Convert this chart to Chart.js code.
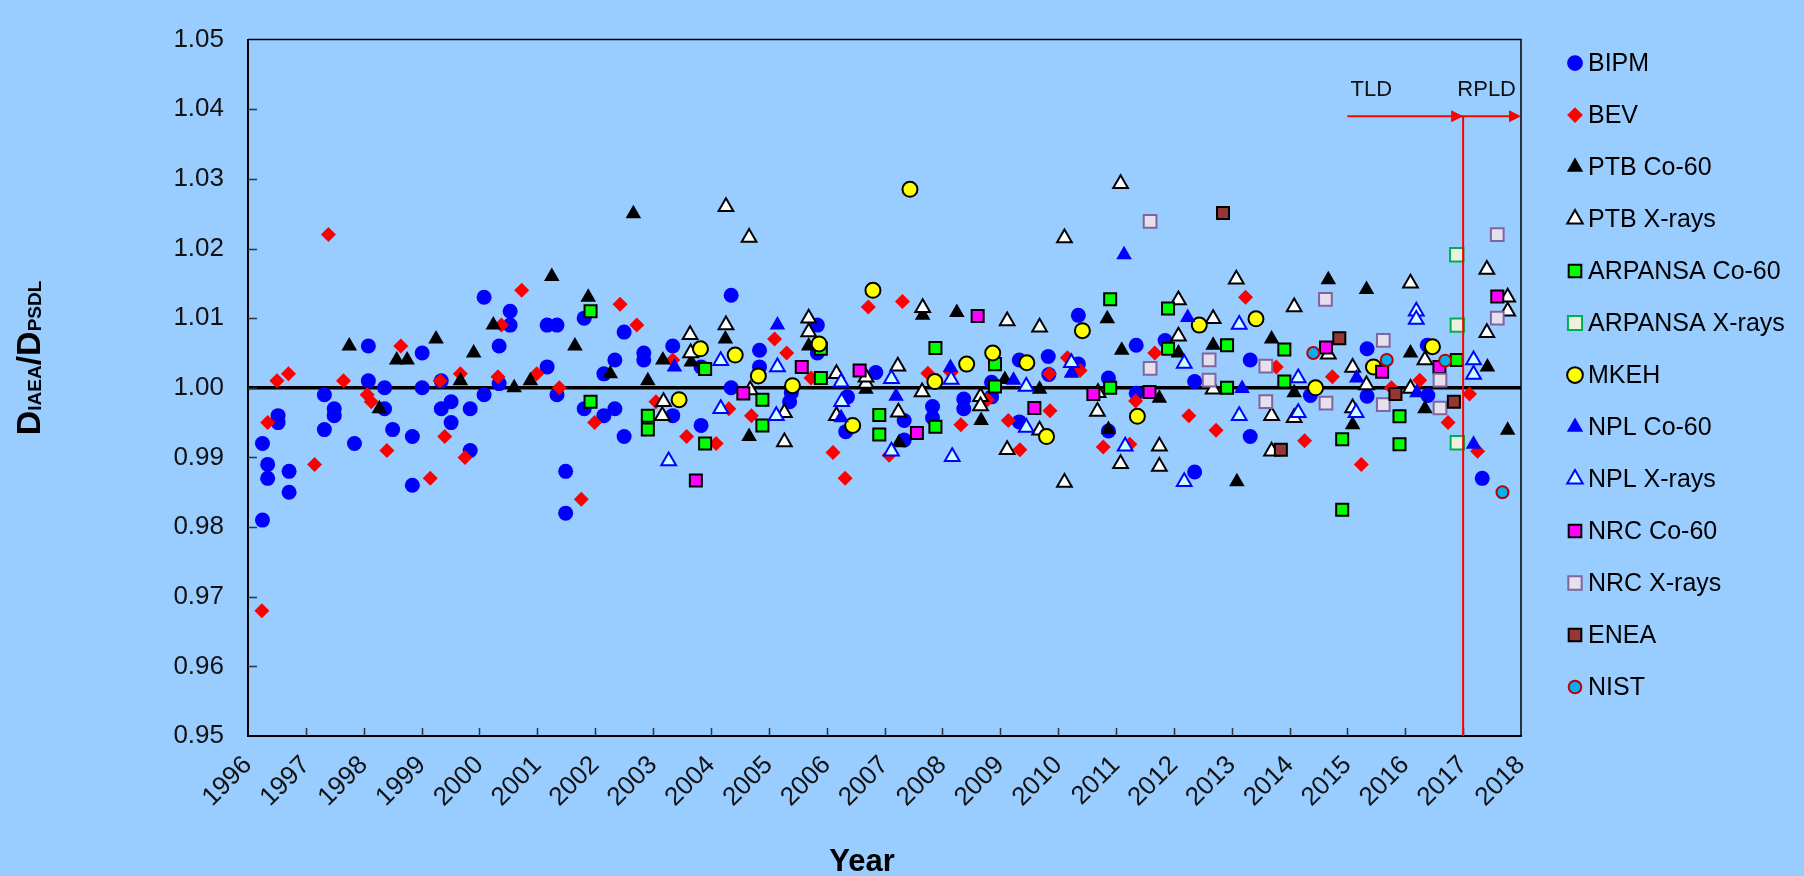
<!DOCTYPE html>
<html>
<head>
<meta charset="utf-8">
<script src="https://cdn.jsdelivr.net/npm/chart.js@4.4.1/dist/chart.umd.min.js"></script>
<style>
  html, body { margin: 0; padding: 0; background: #99CCFF; }
  #wrap { width: 1804px; height: 876px; position: relative; }
</style>
</head>
<body>
<div id="wrap"><canvas id="chart"></canvas></div>
<script>
// ── DATA (year, D_IAEA/D_PSDL) ────────────────────────────────────────────
const bipm = [
  [1996.25,0.992],[1996.34,0.989],[1996.34,0.987],[1996.25,0.981],[1996.52,0.996],[1996.52,0.995],[1996.71,0.988],[1996.71,0.985],
  [1997.32,0.999],[1997.32,0.994],[1997.49,0.997],[1997.49,0.996],[1997.84,0.992],
  [1998.08,1.006],[1998.08,1.001],[1998.36,1.000],[1998.36,0.997],[1998.5,0.994],[1998.84,0.993],[1998.84,0.986],
  [1999.01,1.005],[1999.01,1.000],[1999.34,1.001],[1999.34,0.997],[1999.51,0.998],[1999.51,0.995],[1999.84,0.997],[1999.84,0.991],
  [2000.08,1.013],[2000.08,0.999],[2000.34,1.006],[2000.34,1.0006],[2000.53,1.011],[2000.53,1.009],
  [2001.17,1.009],[2001.34,1.009],[2001.17,1.003],[2001.34,0.999],[2001.49,0.988],[2001.49,0.982],[2001.81,1.010],[2001.81,0.997],
  [2002.15,1.002],[2002.15,0.996],[2002.34,1.004],[2002.34,0.997],[2002.5,1.008],[2002.5,0.993],[2002.84,1.005],[2002.84,1.004],
  [2003.34,1.006],[2003.34,0.996],[2003.83,1.003],[2003.83,0.9946],
  [2004.35,1.0133],[2004.35,1.000],[2004.84,1.0054],[2004.84,1.003],
  [2005.39,0.9993],[2005.36,0.998],[2005.84,1.009],[2005.84,1.005],
  [2006.36,0.9987],[2006.33,0.9937],[2006.85,1.0022],
  [2007.34,0.9953],[2007.34,0.9925],[2007.83,0.9973],[2007.83,0.9957],
  [2008.37,0.9984],[2008.37,0.997],[2008.85,1.0008],[2008.85,0.9987],
  [2009.33,1.004],[2009.33,0.9951],[2009.83,1.0045],[2009.84,1.0019],
  [2010.35,1.0104],[2010.35,1.0034],[2010.87,1.0014],[2010.87,0.9938],
  [2011.35,1.0061],[2011.35,0.9992],[2011.85,1.0068],
  [2012.36,1.0009],[2012.36,0.9879],[2013.32,1.004],[2013.32,0.993],
  [2014.36,0.9989],[2015.34,1.0056],[2015.34,0.9988],[2016.38,1.0061],[2016.39,0.9989],[2017.33,0.987]
];
const bev = [
  [1996.24,0.968],[1996.34,0.995],[1996.5,1.001],[1996.7,1.002],[1997.15,0.989],[1997.39,1.022],[1997.65,1.001],
  [1998.06,0.999],[1998.13,0.998],[1998.4,0.991],[1998.64,1.006],[1999.15,0.987],[1999.32,1.001],[1999.4,0.993],
  [1999.67,1.002],[1999.75,0.990],[2000.32,1.0016],[2000.38,1.009],[2000.73,1.014],[2000.99,1.002],[2001.38,1.000],
  [2001.76,0.984],[2001.99,0.995],[2002.43,1.012],[2002.72,1.009],[2003.05,0.998],[2003.34,1.004],[2003.58,0.993],
  [2004.09,0.992],[2004.31,0.997],[2004.7,0.996],[2005.1,1.007],[2005.31,1.005],[2005.73,1.0014],[2006.11,0.9907],
  [2006.32,0.987],[2006.72,1.0116],[2007.08,0.9903],[2007.31,1.0124],[2007.75,1.0021],[2008.15,1.0022],[2008.32,0.9947],
  [2008.78,0.9983],[2009.14,0.9953],[2009.34,0.9911],[2009.85,1.002],[2009.86,0.9967],[2010.16,1.0043],[2010.38,1.0025],
  [2010.78,0.9915],[2011.24,0.9919],[2011.34,0.9981],[2011.67,1.005],[2012.26,0.996],[2012.73,0.9939],[2013.24,1.013],
  [2013.77,1.003],[2014.26,0.9924],[2014.74,1.0016],[2015.24,0.989],[2015.76,1.000],[2016.25,1.0011],[2016.74,0.995],
  [2017.11,0.9991],[2017.25,0.9909]
];
const ptbCo = [
  [1997.75,1.006],[1998.27,0.997],[1998.57,1.004],[1998.75,1.004],[1999.25,1.007],[1999.67,1.001],[1999.9,1.005],
  [2000.24,1.009],[2000.6,1.000],[2000.88,1.001],[2001.25,1.016],[2001.65,1.006],[2001.88,1.013],[2002.26,1.002],
  [2002.66,1.025],[2002.91,1.001],[2003.17,1.004],[2003.66,1.0037],[2004.25,1.007],[2004.66,0.993],[2005.69,1.006],
  [2006.68,0.9998],[2007.25,0.9921],[2007.66,1.0104],[2008.25,1.0108],[2008.67,0.9953],[2009.08,1.0012],[2009.68,0.9998],
  [2010.85,1.0099],[2010.87,0.994],[2011.1,1.0054],[2011.75,0.9985],[2012.08,1.005],[2012.68,1.0061],[2013.09,0.9865],
  [2013.69,1.007],[2014.08,0.9993],[2014.67,1.0155],[2015.09,0.9947],[2015.33,1.0141],[2016.09,1.005],[2016.34,0.997],
  [2017.42,1.003],[2017.77,0.9939]
];
const ptbX = [
  [2003.16,0.996],[2003.18,0.998],[2003.64,1.0076],[2003.65,1.005],[2004.26,1.026],[2004.26,1.009],[2004.66,1.0216],
  [2004.68,0.9997],[2005.27,0.9964],[2005.27,0.9922],[2005.69,1.010],[2005.69,1.008],[2006.17,1.002],[2006.17,0.996],
  [2006.68,1.0006],[2006.68,1.0015],[2007.23,1.0031],[2007.24,0.9965],[2007.66,1.0115],[2007.65,0.9994],[2008.66,0.9987],
  [2008.66,0.9974],[2009.12,1.0096],[2009.12,0.9911],[2009.68,1.0087],[2009.68,0.9939],[2010.11,1.0215],[2010.11,0.9864],
  [2010.68,0.9966],[2010.69,0.9993],[2011.08,1.0293],[2011.08,0.9891],[2011.75,0.9916],[2011.75,0.9887],[2012.08,1.0126],
  [2012.08,1.0074],[2012.68,1.0099],[2012.68,0.9998],[2013.08,1.0156],[2013.69,0.996],[2013.69,0.9909],[2014.08,1.0116],
  [2014.08,0.9957],[2014.67,1.0048],[2015.09,1.0029],[2015.09,0.9971],[2015.33,1.0004],[2016.09,1.015],[2016.09,0.9999],
  [2016.34,1.004],[2017.41,1.017],[2017.41,1.0079],[2017.77,1.013],[2017.77,1.011]
];
const arpansaCo = [
  [2001.92,1.011],[2001.92,0.998],[2002.91,0.996],[2002.91,0.994],[2003.9,1.0027],[2003.9,0.992],[2004.89,0.9983],
  [2004.89,0.9946],[2005.9,1.0014],[2005.9,1.0056],[2006.91,0.9961],[2006.91,0.9933],[2007.88,1.0057],[2007.88,0.9944],
  [2008.91,1.0034],[2008.91,1.0002],[2010.9,1.0127],[2010.9,1.0000],[2011.9,1.0114],[2011.9,1.0056],[2012.92,1.0061],
  [2012.92,1.0000],[2013.91,1.0055],[2013.91,1.0009],[2014.91,0.9926],[2014.91,0.9825],[2015.9,0.9959],[2015.9,0.9919],
  [2016.89,1.004]
];
const arpansaX = [[2016.89,1.0191],[2016.9,1.009],[2016.9,0.9921]];
const mkeh = [
  [2003.45,0.9983],[2003.82,1.0056],[2004.42,1.0047],[2004.82,1.0017],[2005.41,1.0003],[2005.87,1.0063],[2006.45,0.9946],
  [2006.8,1.014],[2007.44,1.0285],[2007.87,1.0009],[2008.42,1.0034],[2008.87,1.005],[2009.46,1.0036],[2009.8,0.993],
  [2010.42,1.0082],[2011.37,0.9959],[2012.44,1.009],[2013.42,1.0099],[2014.45,1.0000],[2015.45,1.003],[2016.47,1.0059]
];
const nplCo = [
  [2003.37,1.003],[2005.15,1.009],[2006.25,0.9957],[2007.2,0.9988],[2008.14,1.0029],[2009.23,1.0011],[2010.23,1.0021],
  [2011.14,1.0191],[2012.24,1.0101],[2013.18,0.9999],[2015.16,1.0014],[2016.2,0.9993],[2017.18,0.9919]
];
const nplX = [
  [2003.27,0.9895],[2004.17,1.0039],[2004.17,0.997],[2005.15,1.003],[2005.13,0.996],[2006.25,1.0008],[2006.26,0.998],
  [2007.12,0.9909],[2007.12,1.0013],[2008.15,1.0012],[2008.17,0.9901],[2009.45,1.0002],[2009.45,0.9943],[2010.23,1.0036],
  [2011.16,0.9916],[2012.18,1.0035],[2012.18,0.9865],[2013.13,1.0091],[2013.13,0.996],[2014.15,1.0014],[2014.15,0.9964],
  [2015.15,0.9964],[2016.19,1.011],[2016.19,1.0098],[2017.18,1.004],[2017.18,1.0019]
];
const nrcCo = [
  [2003.74,0.9867],[2004.56,0.9992],[2005.57,1.003],[2006.57,1.0025],[2007.56,0.9935],[2008.61,1.0103],[2009.59,0.9971],
  [2010.61,0.9991],[2011.58,0.9994],[2014.63,1.0058],[2015.6,1.0023],[2016.59,1.003],[2017.59,1.0131]
];
const nrcX = [
  [2011.59,1.0239],[2011.59,1.0028],[2012.61,1.004],[2012.61,1.0011],[2013.59,1.0031],[2013.59,0.998],[2014.62,1.0127],
  [2014.63,0.9978],[2015.62,1.0068],[2015.62,0.9976],[2016.6,1.0011],[2016.6,0.9971],[2017.59,1.022],[2017.59,1.01]
];
const enea = [[2012.85,1.0251],[2013.85,0.9911],[2014.86,1.0071],[2015.83,0.9991],[2016.84,0.998]];
const nist = [[2014.41,1.005],[2015.68,1.004],[2016.69,1.0039],[2017.68,0.985]];

const YEAR_MIN = 1996, YEAR_MAX = 2018;
const RATIO_MIN = 0.95, RATIO_MAX = 1.05;
const REF_LINE = [[1996, 1.0], [2018, 1.0]];
// TLD / RPLD periods, arrow drawn at this ratio level
const TLD_FROM = 2015, RPLD_FROM = 2017, RPLD_TO = 2018, ARROW_LEVEL = 1.039;

const FONT = "'Liberation Sans', Arial, sans-serif";

// ── SERIES STYLES ────────────────────────────────────────────────────────
const SERIES = [
  { label: 'BIPM',          data: bipm,      style: 'circle',   r: 7.5, fill: '#0000FF', line: '#0000FF', bw: 0 },
  { label: 'BEV',           data: bev,       style: 'rectRot',  r: 7.5, fill: '#FF0000', line: '#FF0000', bw: 0 },
  { label: 'PTB Co-60',     data: ptbCo,     style: 'triangle', r: 9,   fill: '#000000', line: '#000000', bw: 0 },
  { label: 'PTB X-rays',    data: ptbX,      style: 'triangle', r: 8.5, fill: '#FFFFFF', line: '#000000', bw: 2 },
  { label: 'ARPANSA Co-60', data: arpansaCo, style: 'rect',     r: 8.5, fill: '#00FF00', line: '#000000', bw: 2 },
  { label: 'ARPANSA X-rays',data: arpansaX,  style: 'rect',     r: 9.5, fill: '#EBF1DE', line: '#00B050', bw: 2 },
  { label: 'MKEH',          data: mkeh,      style: 'circle',   r: 7.5, fill: '#FFFF00', line: '#000000', bw: 2 },
  { label: 'NPL Co-60',     data: nplCo,     style: 'triangle', r: 9,   fill: '#0000FF', line: '#0000FF', bw: 0 },
  { label: 'NPL X-rays',    data: nplX,      style: 'triangle', r: 8.5, fill: '#CCFFFF', line: '#0000FF', bw: 2 },
  { label: 'NRC Co-60',     data: nrcCo,     style: 'rect',     r: 8.5, fill: '#FF00FF', line: '#000000', bw: 2 },
  { label: 'NRC X-rays',    data: nrcX,      style: 'rect',     r: 9,   fill: '#E6E0EC', line: '#8064A2', bw: 2 },
  { label: 'ENEA',          data: enea,      style: 'rect',     r: 8.5, fill: '#953735', line: '#000000', bw: 2 },
  { label: 'NIST',          data: nist,      style: 'circle',   r: 6,   fill: '#00B0F0', line: '#C00000', bw: 2 },
];

const toXY = arr => arr.map(p => ({ x: p[0], y: p[1] }));

const datasets = SERIES.map((s, i) => ({
  label: s.label,
  data: toXY(s.data),
  pointStyle: s.style,
  pointRadius: s.r,
  pointHoverRadius: s.r,
  pointBackgroundColor: s.fill,
  pointBorderColor: s.line,
  pointBorderWidth: s.bw,
  showLine: false,
  order: 100 - i,   // later series on top, like the original
}));
datasets.push({
  label: 'ref',
  data: toXY(REF_LINE),
  showLine: true,
  borderColor: '#000000',
  borderWidth: 3.5,
  pointRadius: 0,
  order: 1000,
});

// ── DECORATIONS: frame, inside ticks, TLD/RPLD arrows, titles, legend ────
const decor = {
  id: 'decor',
  afterDatasetsDraw(chart) {
    const { ctx, chartArea: a, scales: { x, y } } = chart;
    ctx.save();
    // top + right frame
    ctx.strokeStyle = '#000'; ctx.lineWidth = 1.5;
    ctx.beginPath();
    ctx.moveTo(a.left, a.top); ctx.lineTo(a.right, a.top); ctx.lineTo(a.right, a.bottom);
    ctx.stroke();
    // inside tick marks
    ctx.strokeStyle = '#333'; ctx.lineWidth = 1.5;
    ctx.beginPath();
    x.ticks.forEach(t => {
      if (t.value <= YEAR_MIN || t.value >= YEAR_MAX) return;
      const px = Math.round(x.getPixelForValue(t.value)) + 0.5;
      ctx.moveTo(px, a.bottom); ctx.lineTo(px, a.bottom - 8);
    });
    y.ticks.forEach(t => {
      if (t.value <= RATIO_MIN + 1e-9 || t.value >= RATIO_MAX - 1e-9) return;
      const py = Math.round(y.getPixelForValue(t.value)) + 0.5;
      ctx.moveTo(a.left, py); ctx.lineTo(a.left + 9, py);
    });
    ctx.stroke();

    // TLD / RPLD red markers
    const ay = y.getPixelForValue(ARROW_LEVEL);
    const x0 = x.getPixelForValue(TLD_FROM);
    const x1 = x.getPixelForValue(RPLD_FROM);
    const x2 = x.getPixelForValue(RPLD_TO);
    ctx.strokeStyle = '#FF0000'; ctx.fillStyle = '#FF0000'; ctx.lineWidth = 2;
    ctx.beginPath();
    ctx.moveTo(x0, ay); ctx.lineTo(x2 - 10, ay);
    ctx.moveTo(x1, ay); ctx.lineTo(x1, a.bottom);
    ctx.stroke();
    [x1, x2].forEach(tip => {
      ctx.beginPath();
      ctx.moveTo(tip, ay); ctx.lineTo(tip - 12, ay - 6); ctx.lineTo(tip - 12, ay + 6);
      ctx.closePath(); ctx.fill();
    });
    ctx.fillStyle = '#111';
    ctx.font = `22px ${FONT}`;
    ctx.textBaseline = 'alphabetic';
    ctx.textAlign = 'center';
    ctx.fillText('TLD', (x0 + x1) / 2 - 34, ay - 20);
    ctx.textAlign = 'right';
    ctx.fillText('RPLD', x2 - 5, ay - 20);
    ctx.restore();
  },
  afterDraw(chart) {
    const { ctx } = chart;
    ctx.save();
    ctx.fillStyle = '#000';
    // x title
    ctx.font = `bold 31px ${FONT}`;
    ctx.textAlign = 'center'; ctx.textBaseline = 'alphabetic';
    ctx.fillText('Year', 862, 871);
    // y title with subscripts: D_IAEA / D_PSDL
    const parts = [['D', 34], ['IAEA', 19], ['/', 34], ['D', 34], ['PSDL', 19]];
    let total = 0;
    parts.forEach(([t, s]) => { ctx.font = `bold ${s}px ${FONT}`; total += ctx.measureText(t).width; });
    ctx.translate(40, 358 + total / 2);
    ctx.rotate(-Math.PI / 2);
    ctx.textAlign = 'left';
    let cx = 0;
    parts.forEach(([t, s]) => {
      ctx.font = `bold ${s}px ${FONT}`;
      ctx.fillText(t, cx, s < 30 ? 1 : 0);
      cx += ctx.measureText(t).width;
    });
    ctx.restore();

    // legend
    ctx.save();
    ctx.font = `25px ${FONT}`;
    ctx.textAlign = 'left'; ctx.textBaseline = 'middle';
    SERIES.forEach((s, i) => {
      const ly = 63 + i * 52;
      ctx.fillStyle = s.fill; ctx.strokeStyle = s.line; ctx.lineWidth = s.bw;
      Chart.helpers.drawPoint(ctx, { pointStyle: s.style, radius: s.r * 1.05, borderWidth: s.bw, rotation: 0 }, 1575, ly);
      ctx.fillStyle = '#000';
      ctx.fillText(s.label, 1588, ly + 1);
    });
    ctx.restore();
  }
};

// ── CHART ────────────────────────────────────────────────────────────────
new Chart(document.getElementById('chart'), {
  type: 'scatter',
  data: { datasets },
  options: {
    responsive: true, maintainAspectRatio: false,
    animation: false,
    layout: { padding: { left: 0, right: 283, top: 20, bottom: 0 } },
    plugins: { legend: { display: false }, tooltip: { enabled: false } },
    scales: {
      x: {
        type: 'linear', min: YEAR_MIN, max: YEAR_MAX,
        afterFit: s => { s.height = 140; },
        grid: { display: false, drawTicks: false },
        border: { display: true, color: '#000', width: 2 },
        ticks: {
          stepSize: 1, minRotation: 45, maxRotation: 45, padding: 14,
          color: '#111', font: { family: FONT, size: 26 },
          callback: v => String(v)
        }
      },
      y: {
        type: 'linear', min: RATIO_MIN, max: RATIO_MAX,
        afterFit: s => { s.width = 248; },
        grid: { display: false, drawTicks: false },
        border: { display: true, color: '#000', width: 2 },
        ticks: {
          stepSize: 0.01, padding: 24,
          color: '#111', font: { family: FONT, size: 26 },
          callback: v => v.toFixed(2)
        }
      }
    }
  },
  plugins: [decor]
});
</script>
</body>
</html>
